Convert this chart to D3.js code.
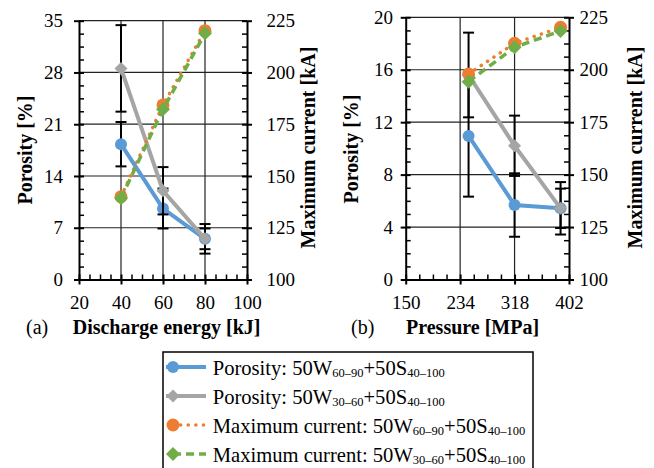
<!DOCTYPE html>
<html>
<head>
<meta charset="utf-8">
<script src="https://cdn.jsdelivr.net/npm/d3@7"></script>
<style>
  body { margin: 0; background: #fff; }
  svg { font-family: 'Liberation Serif', 'Times New Roman', serif; }
</style>
</head>
<body>
<svg id="chart"></svg>
<script>
// panel (a): discharge energy
const energyKJ = [40, 60, 80];
const porosityA_W6090 = [18.3, 9.6, 5.5];
const errA_W6090 = [3.0, 2.7, 1.4];
const porosityA_W3060 = [28.55, 12.0, 5.5];
const errA_W3060 = [5.85, 3.2, 2.0];
const currentA_W6090 = [140, 184.3, 220.2];
const currentA_W3060 = [139.2, 182.2, 218.9];

// panel (b): pressure
const pressureMPa = [247, 318, 389];
const porosityB_W6090 = [10.95, 5.68, 5.43];
const errB_W6090 = [4.63, 2.42, 1.5];
const porosityB_W3060 = [15.6, 10.2, 5.43];
const errB_W3060 = [3.23, 2.3, 2.0];
const currentB_W6090 = [198, 212.6, 220.2];
const currentB_W3060 = [194.3, 210.7, 218.5];

// tick labels
const xTicksA = [20, 40, 60, 80, 100];
const yTicksA = [0, 7, 14, 21, 28, 35];
const xTicksB = [150, 234, 318, 402];
const yTicksB = [0, 4, 8, 12, 16, 20];
const currentTicks = [100, 125, 150, 175, 200, 225];

// legend labels: [text, subscript, text, subscript]
const legendLabels = [
  ['Porosity: 50W', '60–90', '+50S', '40–100'],
  ['Porosity: 50W', '30–60', '+50S', '40–100'],
  ['Maximum current: 50W', '60–90', '+50S', '40–100'],
  ['Maximum current: 50W', '30–60', '+50S', '40–100'],
];

const blue = '#5B9BD5';
const gray = '#A5A5A5';
const orange = '#ED7D31';
const green = '#70AD47';

const styles = [
  {color: blue, marker: 'circle', size: 6, dash: null, width: 4},
  {color: gray, marker: 'diamond', size: 6.5, dash: null, width: 4},
  {color: orange, marker: 'circle', size: 6.5, dash: '0.1,7.5', width: 3.5},
  {color: green, marker: 'diamond', size: 7, dash: '8,5', width: 3.5},
];

const svg = d3.select('#chart')
  .attr('width', 654)
  .attr('height', 468);

const drawMarker = (g, style, x, y) => {
  if (style.marker === 'circle') {
    g.append('circle')
      .attr('cx', x).attr('cy', y).attr('r', style.size)
      .attr('fill', style.color);
  } else {
    const s = style.size * Math.SQRT2;
    g.append('path')
      .attr('d', d3.symbol(d3.symbolSquare, s * s)())
      .attr('transform', `translate(${x},${y}) rotate(45)`)
      .attr('fill', style.color);
  }
};

const renderPanel = (selection, props) => {
  const {
    left, right, top, bottom,
    xTicks, xMinor, yTicks, yMinor, y2Ticks,
    padL, padR, series,
  } = props;

  const g = selection.append('g');

  const xScale = d3.scaleLinear()
    .domain([xTicks[0], xTicks[xTicks.length - 1]])
    .range([left, right]);
  const yScale = d3.scaleLinear()
    .domain([yTicks[0], yTicks[yTicks.length - 1]])
    .range([bottom, top]);
  const y2Scale = d3.scaleLinear()
    .domain([y2Ticks[0], y2Ticks[y2Ticks.length - 1]])
    .range([bottom, top]);

  // gridlines
  g.append('g').selectAll('line')
    .data(yTicks.slice(1))
    .join('line')
      .attr('x1', left).attr('x2', right)
      .attr('y1', d => yScale(d)).attr('y2', d => yScale(d))
      .attr('stroke', '#222').attr('stroke-width', 1.2);
  g.append('g').selectAll('line')
    .data(xTicks.slice(1, -1))
    .join('line')
      .attr('y1', top).attr('y2', bottom)
      .attr('x1', d => xScale(d)).attr('x2', d => xScale(d))
      .attr('stroke', '#222').attr('stroke-width', 1.2);

  const minorOf = (ticks, step) => {
    const out = [];
    for (let i = 0; i < ticks.length - 1; i++) {
      for (let v = ticks[i] + step; v < ticks[i + 1] - step / 2; v += step) out.push(v);
    }
    return out;
  };

  const styleAxis = (ag) => {
    ag.attr('font-family', 'Liberation Serif, Times New Roman, serif')
      .attr('font-size', 19);
    ag.select('.domain').attr('stroke', '#000').attr('stroke-width', 2);
    ag.selectAll('.tick line').attr('stroke', '#000').attr('stroke-width', 2);
    ag.selectAll('.tick text').attr('fill', '#000');
  };

  // minor ticks (inside)
  g.append('g')
    .attr('transform', `translate(0,${bottom})`)
    .call(d3.axisBottom(xScale).tickValues(minorOf(xTicks, xMinor)).tickSize(-5).tickFormat(''))
    .call(ag => ag.select('.domain').remove())
    .selectAll('.tick line').attr('stroke', '#000').attr('stroke-width', 1.5);
  g.append('g')
    .attr('transform', `translate(${left},0)`)
    .call(d3.axisLeft(yScale).tickValues(minorOf(yTicks, yMinor)).tickSize(-5).tickFormat(''))
    .call(ag => ag.select('.domain').remove())
    .selectAll('.tick line').attr('stroke', '#000').attr('stroke-width', 1.5);
  g.append('g')
    .attr('transform', `translate(${right},0)`)
    .call(d3.axisRight(yScale).tickValues(minorOf(yTicks, yMinor)).tickSize(-5).tickFormat(''))
    .call(ag => ag.select('.domain').remove())
    .selectAll('.tick line').attr('stroke', '#000').attr('stroke-width', 1.5);

  // major axes, ticks crossing
  g.append('g')
    .attr('transform', `translate(0,${bottom})`)
    .call(d3.axisBottom(xScale).tickValues(xTicks).tickSize(5).tickSizeOuter(0).tickPadding(11))
    .call(styleAxis)
    .selectAll('.tick line').attr('y1', -5);
  g.append('g')
    .attr('transform', `translate(${left},0)`)
    .call(d3.axisLeft(yScale).tickValues(yTicks).tickSize(5).tickSizeOuter(0).tickPadding(padL))
    .call(styleAxis)
    .selectAll('.tick line').attr('x1', 5);
  g.append('g')
    .attr('transform', `translate(${right},0)`)
    .call(d3.axisRight(y2Scale).tickValues(y2Ticks).tickSize(5).tickSizeOuter(0).tickPadding(padR))
    .call(styleAxis)
    .selectAll('.tick line').attr('x1', -5);

  // series
  series.forEach((s, si) => {
    const st = styles[si];
    const sc = s.axis === 'y2' ? y2Scale : yScale;
    const pts = s.x.map((x, i) => ({x, y: s.y[i], e: s.err ? s.err[i] : 0}));
    const sg = g.append('g');

    if (s.err) {
      pts.forEach(p => {
        const cx = xScale(p.x);
        const y1 = sc(p.y - p.e);
        const y2 = sc(p.y + p.e);
        sg.append('line')
          .attr('x1', cx).attr('x2', cx).attr('y1', y1).attr('y2', y2)
          .attr('stroke', '#000').attr('stroke-width', 2);
        [y1, y2].forEach(yy => sg.append('line')
          .attr('x1', cx - 5.5).attr('x2', cx + 5.5).attr('y1', yy).attr('y2', yy)
          .attr('stroke', '#000').attr('stroke-width', 2));
      });
    }

    sg.append('path')
      .datum(pts)
      .attr('d', d3.line().x(d => xScale(d.x)).y(d => sc(d.y)))
      .attr('fill', 'none')
      .attr('stroke', st.color)
      .attr('stroke-width', st.width)
      .attr('stroke-linecap', st.dash && st.dash.startsWith('0.1') ? 'round' : 'butt')
      .attr('stroke-dasharray', st.dash);

    pts.forEach(p => drawMarker(sg, st, xScale(p.x), sc(p.y)));
  });
};

renderPanel(svg, {
  left: 79, right: 247, top: 20.7, bottom: 279.5,
  xTicks: xTicksA, xMinor: 5, yTicks: yTicksA, yMinor: 1.75, y2Ticks: currentTicks,
  padL: 11, padR: 14.5,
  series: [
    {x: energyKJ, y: porosityA_W6090, err: errA_W6090, axis: 'y'},
    {x: energyKJ, y: porosityA_W3060, err: errA_W3060, axis: 'y'},
    {x: energyKJ, y: currentA_W6090, axis: 'y2'},
    {x: energyKJ, y: currentA_W3060, axis: 'y2'},
  ],
});

renderPanel(svg, {
  left: 405.7, right: 569, top: 17.3, bottom: 279.5,
  xTicks: xTicksB, xMinor: 21, yTicks: yTicksB, yMinor: 1, y2Ticks: currentTicks,
  padL: 7.7, padR: 5.5,
  series: [
    {x: pressureMPa, y: porosityB_W6090, err: errB_W6090, axis: 'y'},
    {x: pressureMPa, y: porosityB_W3060, err: errB_W3060, axis: 'y'},
    {x: pressureMPa, y: currentB_W6090, axis: 'y2'},
    {x: pressureMPa, y: currentB_W3060, axis: 'y2'},
  ],
});

// axis titles
const titles = svg.append('g')
  .attr('font-size', 20)
  .attr('font-weight', 'bold')
  .attr('fill', '#000');

const vTitle = (x, y, text) => titles.append('text')
  .attr('transform', `translate(${x},${y}) rotate(-90)`)
  .attr('text-anchor', 'middle')
  .attr('dy', '0.33em')
  .text(text);

vTitle(25, 150, 'Porosity [%]');
vTitle(308, 147.5, 'Maximum current [kA]');
vTitle(351, 149, 'Porosity [%]');
vTitle(635, 147.5, 'Maximum current [kA]');

titles.append('text').attr('x', 72.7).attr('y', 334).text('Discharge energy [kJ]');
titles.append('text').attr('x', 406).attr('y', 334).text('Pressure [MPa]');
titles.append('text').attr('x', 26).attr('y', 334).attr('font-weight', 'normal').text('(a)');
titles.append('text').attr('x', 351).attr('y', 334).attr('font-weight', 'normal').text('(b)');

// legend
const legend = svg.append('g');
legend.append('rect')
  .attr('x', 163).attr('y', 352)
  .attr('width', 370).attr('height', 130)
  .attr('fill', '#fff')
  .attr('stroke', '#000')
  .attr('stroke-width', 1.5);

legendLabels.forEach((parts, i) => {
  const st = styles[i];
  const cy = 367 + i * 29;
  legend.append('line')
    .attr('x1', st.dash ? 173 : 166).attr('x2', 206)
    .attr('y1', cy).attr('y2', cy)
    .attr('stroke', st.color)
    .attr('stroke-width', st.width)
    .attr('stroke-linecap', st.dash && st.dash.startsWith('0.1') ? 'round' : 'butt')
    .attr('stroke-dasharray', st.dash && st.dash.startsWith('0.1') ? '0.1,7.5' : (st.dash ? '8,5' : null));
  drawMarker(legend, st, 173, cy);

  const t = legend.append('text')
    .attr('x', 212.7).attr('y', cy + 7.5)
    .attr('font-size', 20.6)
    .attr('fill', '#000');
  t.append('tspan').text(parts[0]);
  t.append('tspan').attr('font-size', 12.5).attr('dy', 2).text(parts[1]);
  t.append('tspan').attr('dy', -2).text(parts[2]);
  t.append('tspan').attr('font-size', 12.5).attr('dy', 2).text(parts[3]);
});
</script>
</body>
</html>
